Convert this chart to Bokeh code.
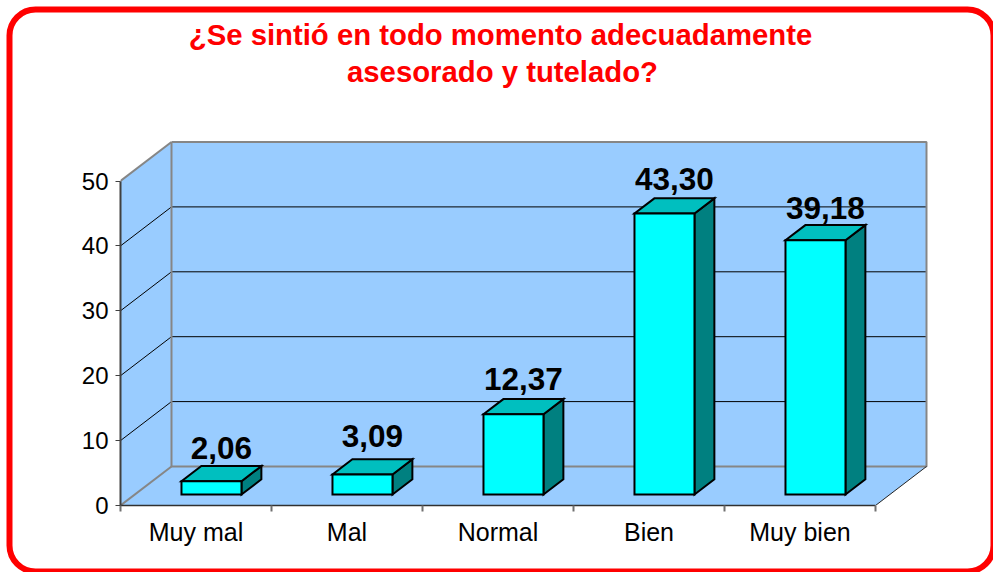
from bokeh.plotting import figure
from bokeh.models import Range1d, FixedTicker, LinearAxis, BoxAnnotation, ColumnDataSource
from bokeh.core.properties import value
from bokeh.embed import file_html
from bokeh.resources import INLINE

TITLE_LINES = ["¿Se sintió en todo momento adecuadamente", "asesorado y tutelado?"]
categories = ["Muy mal", "Mal", "Normal", "Bien", "Muy bien"]
values = [2.06, 3.09, 12.37, 43.30, 39.18]
value_labels = ["2,06", "3,09", "12,37", "43,30", "39,18"]
y_ticks = [0, 10, 20, 30, 40, 50]

# layout constants
W, H = 993, 572
LEFT, RIGHT, TOP, BOTTOM = 120, 928, 140, 505
PX_U, PX_V = 151.0, 6.49
DX, DY = 51 / PX_U, 39 / PX_V      # full depth of the 3D box in data units
D0, D1 = 0.28, 0.67                # depth span of the bars
BAR_L, BAR_W = 61 / PX_U, 60 / PX_U
label_nudge = [18, 23, 20, 19, 17]
PLACED = {"position": "absolute", "left": "0px", "top": "0px"}

# full-page figure that carries the rounded red frame and the title
frame = figure(width=W, height=H, output_backend="svg", toolbar_location=None,
               x_range=Range1d(0, W), y_range=Range1d(H, 0),
               min_border=0, x_axis_type=None, y_axis_type=None,
               background_fill_color="white", border_fill_color="white",
               outline_line_color=None)
frame.styles = PLACED
frame.xgrid.visible = False
frame.ygrid.visible = False
frame.add_layout(BoxAnnotation(left=9, right=993, top=9, bottom=571,
                               fill_alpha=0, line_color="#FF0000", line_alpha=1, line_width=6,
                               border_radius=26))
frame.text([500, 502], [33.5, 71], text=TITLE_LINES,
           text_font=value("Liberation Sans"), text_font_style="bold",
           text_font_size="29.3px", text_color="#FF0000",
           text_align="center", text_baseline="alphabetic")

p = figure(width=W, height=H, output_backend="svg", toolbar_location=None,
           x_range=Range1d(0, (RIGHT - LEFT) / PX_U),
           y_range=Range1d(0, (BOTTOM - TOP) / PX_V),
           min_border_left=LEFT, min_border_right=W - RIGHT,
           min_border_top=TOP, min_border_bottom=H - BOTTOM,
           x_axis_type=None, y_axis_type=None,
           background_fill_color=None, border_fill_color=None,
           outline_line_color=None)
p.styles = PLACED
p.xgrid.visible = False
p.ygrid.visible = False

n = len(categories)
vmax = y_ticks[-1]
WALL = "#99CCFF"
EDGE = "#868686"

# walls and floor
p.patch([0, DX, DX, 0], [0, DY, vmax + DY, vmax], fill_color=WALL, line_color=None)
p.patch([DX, n + DX, n + DX, DX], [DY, DY, vmax + DY, vmax + DY], fill_color=WALL, line_color=None)
p.patch([0, n, n + DX, DX], [0, 0, DY, DY], fill_color=WALL, line_color=None)

# grid lines
grid = y_ticks[1:-1]
p.multi_line([[0, DX, n + DX] for _ in grid], [[t, t + DY, t + DY] for t in grid],
             line_color="#000000", line_width=1)
# box edges
p.multi_line([[0, DX], [DX, n + DX, n + DX, DX, DX], [0, DX]],
             [[vmax, vmax + DY], [vmax + DY, vmax + DY, DY, DY, vmax + DY], [0, DY]],
             line_color=EDGE, line_width=2)
p.line([n, n + DX], [0, DY], line_color="#222222", line_width=1)

# bars
for i, v in enumerate(values):
    x0 = i + BAR_L + D0 * DX - 14.3 / PX_U
    x1 = x0 + BAR_W
    y0 = D0 * DY
    y1 = y0 + v
    ox, oy = (D1 - D0) * DX, (D1 - D0) * DY
    p.patch([x1, x1 + ox, x1 + ox, x1], [y0, y0 + oy, y1 + oy, y1],
            fill_color="#008080", line_color="black", line_width=2, line_join="miter")
    p.patch([x0, x1, x1 + ox, x0 + ox], [y1, y1, y1 + oy, y1 + oy],
            fill_color="#00BFBF", line_color="black", line_width=2, line_join="miter")
    p.patch([x0, x1, x1, x0], [y0, y0, y1, y1],
            fill_color="#00FFFF", line_color="black", line_width=2, line_join="miter")

# value labels
src = ColumnDataSource(dict(
    x=[i + BAR_L + D0 * DX - 14.3 / PX_U + (BAR_W + (D1 - D0) * DX) / 2 for i in range(n)],
    y=[v + D1 * DY for v in values],
    t=value_labels,
    off=[-k for k in label_nudge],
))
p.text("x", "y", text="t", source=src, y_offset="off",
       text_font=value("Liberation Sans"), text_font_style="bold",
       text_font_size="31.5px", text_color="black",
       text_align="center", text_baseline="alphabetic")

# axes
yax = LinearAxis(ticker=FixedTicker(ticks=y_ticks), bounds=(0, vmax))
yax.axis_line_color = "#404040"
yax.axis_line_width = 2
yax.major_tick_line_color = "#404040"
yax.major_tick_out = 5
yax.major_tick_in = 0
yax.minor_tick_line_color = None
yax.major_label_text_font = "Liberation Sans"
yax.major_label_text_font_size = "24px"
yax.major_label_text_color = "black"
yax.major_label_standoff = 7
p.add_layout(yax, "left")

xax = LinearAxis(ticker=FixedTicker(ticks=[i + 0.5 for i in range(n)],
                                    minor_ticks=list(range(n + 1))),
                 bounds=(0, n))
xax.major_label_overrides = {i + 0.5: c for i, c in enumerate(categories)}
xax.axis_line_color = "#303030"
xax.axis_line_width = 1.5
xax.major_tick_line_color = None
xax.minor_tick_line_color = "#707070"
xax.minor_tick_line_width = 2
xax.minor_tick_out = 6
xax.minor_tick_in = 0
xax.major_label_text_font = "Liberation Sans"
xax.major_label_text_font_size = "25px"
xax.major_label_text_color = "black"
xax.major_label_standoff = 6
p.add_layout(xax, "below")

open("out.html", "w").write(file_html([frame, p], INLINE))
